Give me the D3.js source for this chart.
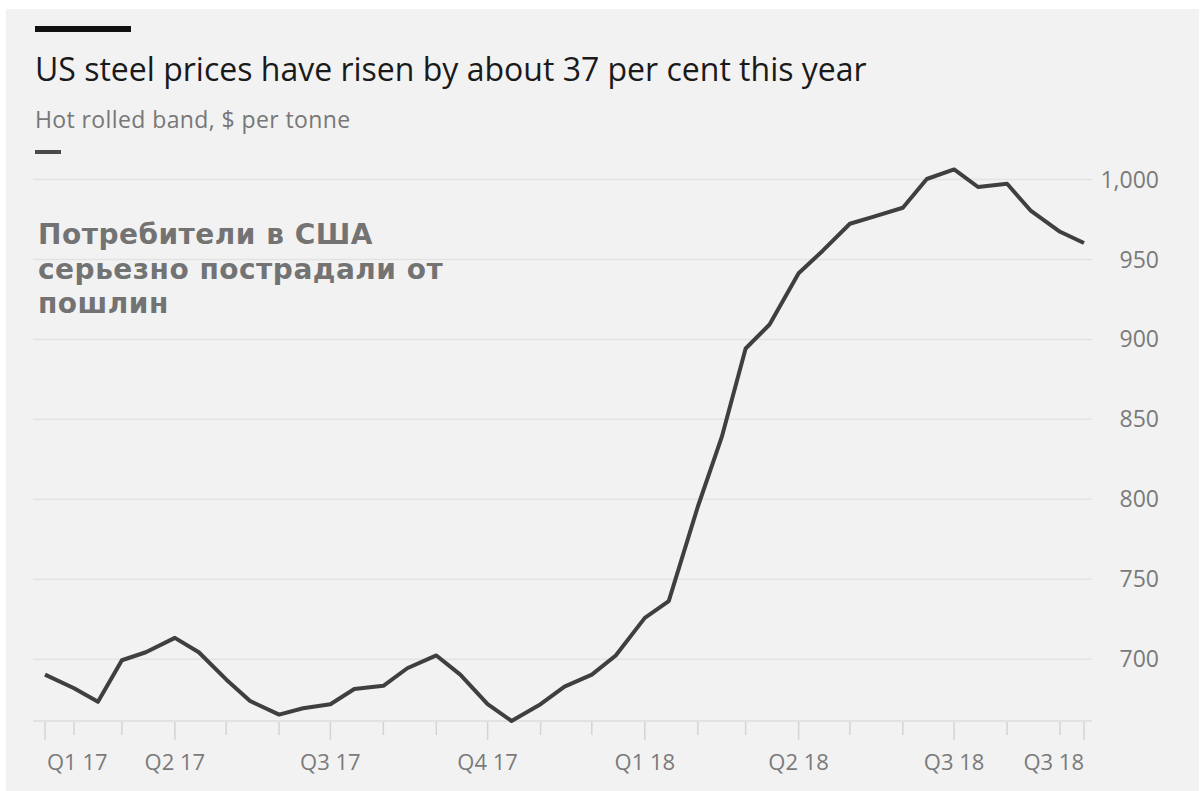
<!DOCTYPE html>
<html lang="en">

<head>
    <meta charset="UTF-8">
    <title>US steel prices</title>
    <script src="https://d3js.org/d3.v7.min.js"></script>
    <style>
        body {
            margin: 0;
            background: #fff;
        }
        svg {
            display: block;
        }
    </style>
</head>

<body>
    <svg id="chart" width="1202" height="791"></svg>
    <script>
        // hot rolled band, $ per tonne, twice a month
        const dates = [
            "2017-01-15", "2017-02-01", "2017-02-15", "2017-03-01", "2017-03-15", "2017-04-01", "2017-04-15",
            "2017-05-01", "2017-05-15", "2017-06-01", "2017-06-15", "2017-07-01", "2017-07-15", "2017-08-01",
            "2017-08-15", "2017-09-01", "2017-09-15", "2017-10-01", "2017-10-15", "2017-11-01", "2017-11-15",
            "2017-12-01", "2017-12-15", "2018-01-01", "2018-01-15", "2018-02-01", "2018-02-15", "2018-03-01",
            "2018-03-15", "2018-04-01", "2018-04-15", "2018-05-01", "2018-05-15", "2018-06-01", "2018-06-15",
            "2018-07-01", "2018-07-15", "2018-08-01", "2018-08-15", "2018-09-01", "2018-09-15"
        ];
        const prices = [
            690, 681.5, 673, 699, 704, 713, 704, 687, 673.5, 665,
            669, 671.5, 681, 683, 694, 702, 690, 671.5, 661, 671.5,
            682.5, 690, 702, 725.5, 736, 795, 838.5, 894, 909, 941,
            955, 972, 976.5, 982, 1000, 1006, 995, 997, 980, 967, 960
        ];
        const yTicks = [700, 750, 800, 850, 900, 950, 1000];
        const xLabels = ["Q1 17", "Q2 17", "Q3 17", "Q4 17", "Q1 18", "Q2 18", "Q3 18", "Q3 18"];
        const xLabelDates = ["2017-01-15", "2017-04-01", "2017-07-01", "2017-10-01", "2018-01-01", "2018-04-01", "2018-07-01", "2018-09-15"];

        const parse = d3.timeParse("%Y-%m-%d");
        const data = dates.map((d, i) => ({ date: parse(d), value: prices[i] }));

        const svg = d3.select("#chart");
        const gridLeft = 33, gridRight = 1092;
        const sans = "'Open Sans', sans-serif";

        svg.append("rect")
            .attr("x", 6).attr("y", 9)
            .attr("width", 1193).attr("height", 782)
            .attr("fill", "#f2f2f2");

        const x = d3.scaleTime()
            .domain([data[0].date, data[data.length - 1].date])
            .range([45, 1084]);
        const y = d3.scaleLinear()
            .domain([661, 1000])
            .range([721, 179]);

        // gridlines + y labels
        const yAxis = svg.append("g")
            .attr("transform", `translate(${gridLeft},0)`)
            .call(d3.axisRight(y).tickValues(yTicks).tickSize(gridRight - gridLeft).tickFormat(d3.format(",")));
        yAxis.select(".domain").remove();
        yAxis.selectAll("line").attr("stroke", "#e3e3e3").attr("stroke-width", 1.5);
        yAxis.selectAll("text")
            .attr("x", 1159 - gridLeft)
            .attr("dy", "0.35em")
            .attr("text-anchor", "end")
            .attr("fill", "#7a7a7a")
            .style("font-family", sans)
            .style("font-size", "23px");

        // bottom axis: monthly ticks, longer ones at quarters and at both ends
        const months = d3.timeMonth.range(parse("2017-02-01"), parse("2018-09-02"));
        const majorTicks = [x.domain()[0], ...months.filter(m => m.getMonth() % 3 === 0), x.domain()[1]];
        const minorTicks = months.filter(m => m.getMonth() % 3 !== 0);

        svg.append("line")
            .attr("x1", gridLeft).attr("x2", gridRight)
            .attr("y1", 721).attr("y2", 721)
            .attr("stroke", "#dcdcdc").attr("stroke-width", 1.5);

        const tickG = svg.append("g");
        tickG.selectAll(".major")
            .data(majorTicks)
            .enter().append("line")
            .attr("x1", d => x(d)).attr("x2", d => x(d))
            .attr("y1", 722).attr("y2", 740)
            .attr("stroke", "#d4d4d4").attr("stroke-width", 1.5);
        tickG.selectAll(".minor")
            .data(minorTicks)
            .enter().append("line")
            .attr("x1", d => x(d)).attr("x2", d => x(d))
            .attr("y1", 722).attr("y2", 735)
            .attr("stroke", "#d4d4d4").attr("stroke-width", 1.5);

        svg.append("g").selectAll("text")
            .data(xLabels)
            .enter().append("text")
            .attr("x", (d, i) => x(parse(xLabelDates[i])) + (i === 0 ? 2 : 0))
            .attr("y", 770)
            .attr("text-anchor", (d, i) => i === 0 ? "start" : (i === xLabels.length - 1 ? "end" : "middle"))
            .attr("fill", "#7a7a7a")
            .style("font-family", sans)
            .style("font-size", "22px")
            .text(d => d);

        // price line
        const line = d3.line()
            .x(d => x(d.date))
            .y(d => y(d.value));
        svg.append("path")
            .datum(data)
            .attr("d", line)
            .attr("fill", "none")
            .attr("stroke", "#3f3f3f")
            .attr("stroke-width", 4)
            .attr("stroke-linejoin", "round");

        // header
        svg.append("rect")
            .attr("x", 35).attr("y", 26)
            .attr("width", 96).attr("height", 6)
            .attr("fill", "#111");
        svg.append("text")
            .attr("x", 35).attr("y", 81)
            .attr("fill", "#1a1a1a")
            .style("font-family", sans)
            .style("font-size", "32px")
            .text("US steel prices have risen by about 37 per cent this year");
        svg.append("text")
            .attr("x", 35).attr("y", 128)
            .attr("fill", "#777")
            .style("font-family", sans)
            .style("font-size", "23px")
            .style("letter-spacing", "0.4px")
            .text("Hot rolled band, $ per tonne");
        svg.append("line")
            .attr("x1", 35).attr("x2", 61)
            .attr("y1", 152).attr("y2", 152)
            .attr("stroke", "#4a4a4a").attr("stroke-width", 4);

        // annotation
        const note = ["Потребители в США", "серьезно пострадали от", "пошлин"];
        svg.append("g").selectAll("text")
            .data(note)
            .enter().append("text")
            .attr("x", 38)
            .attr("y", (d, i) => 244 + i * 34.5)
            .attr("fill", "#737373")
            .style("font-family", "'DejaVu Sans', sans-serif")
            .style("font-weight", "bold")
            .style("font-size", "28px")
            .style("letter-spacing", "0.5px")
            .text(d => d);
    </script>
</body>
</html>
